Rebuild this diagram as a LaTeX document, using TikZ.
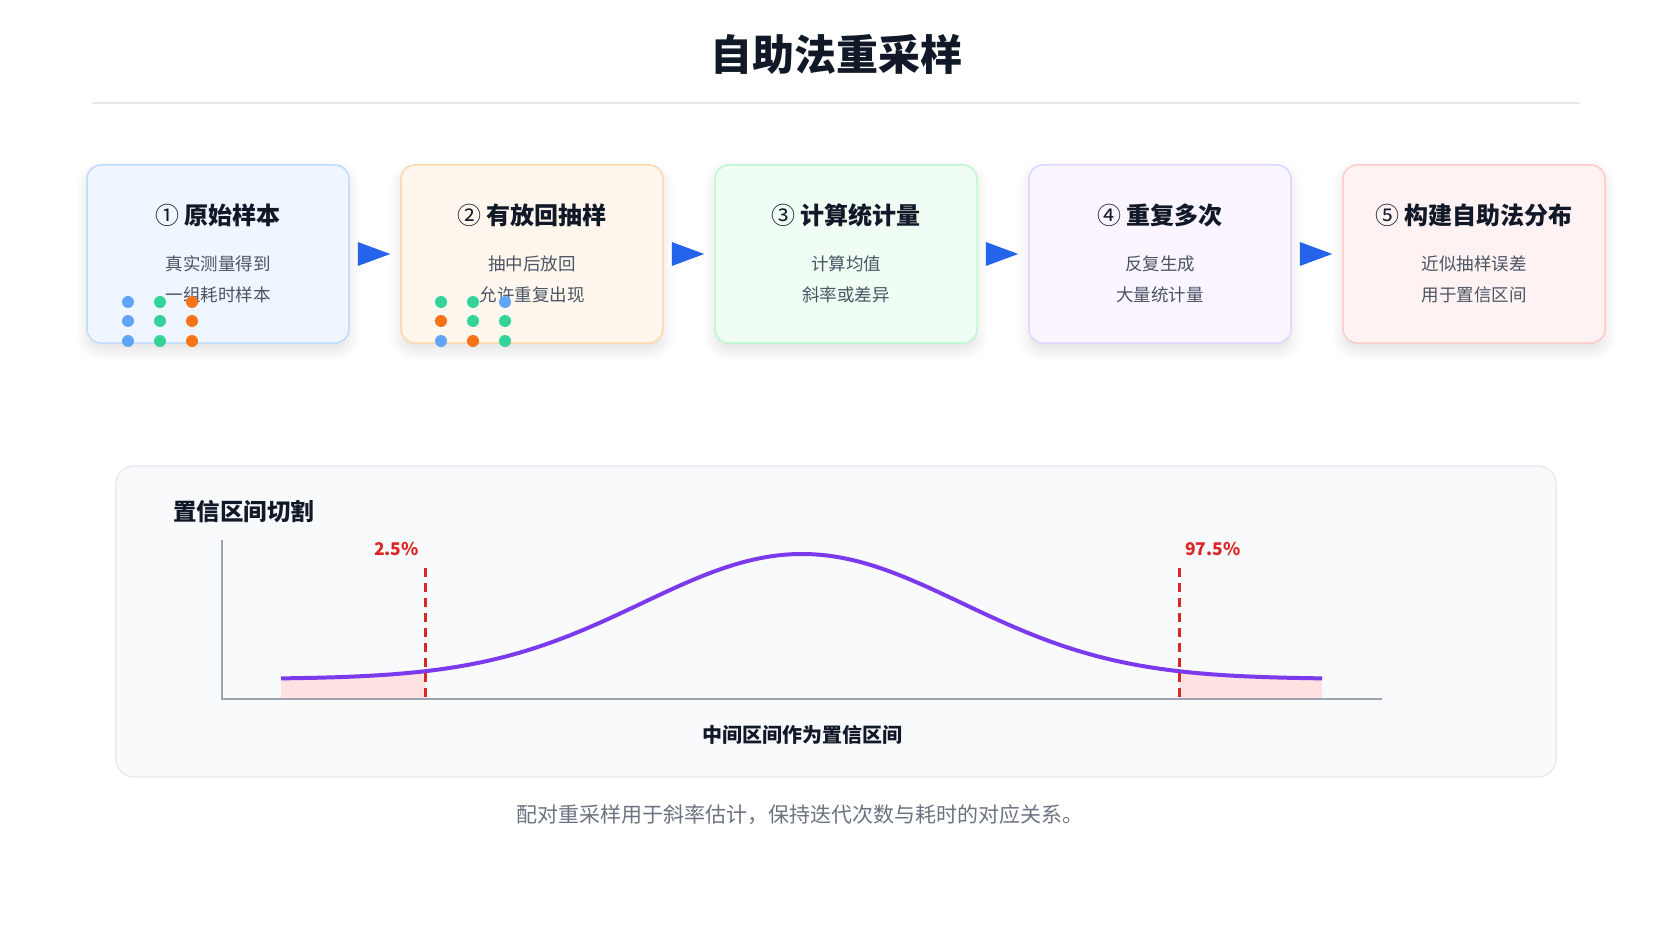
\documentclass[tikz,border=0pt]{standalone}
\usepackage{fontspec}
\setmainfont{Noto Sans CJK SC}
\usetikzlibrary{calc,shadows.blur}

\definecolor{titlecol}{HTML}{111827}
\definecolor{notecol}{HTML}{4B5563}
\definecolor{capcol}{HTML}{6B7280}
\definecolor{rulecol}{HTML}{E5E7EB}
\definecolor{arrowblue}{HTML}{2563EB}
\definecolor{dblue}{HTML}{60A5FA}
\definecolor{dgreen}{HTML}{34D399}
\definecolor{dorange}{HTML}{F97316}
\definecolor{curvecol}{HTML}{7C3AED}
\definecolor{cutred}{HTML}{DC2626}
\definecolor{tailpink}{HTML}{FEE2E2}
\definecolor{axiscol}{HTML}{9CA3AF}
\definecolor{panelfill}{HTML}{F8FAFC}
\definecolor{fillA}{HTML}{EFF6FF}
\definecolor{lineA}{HTML}{BFDBFE}
\definecolor{fillB}{HTML}{FFF7ED}
\definecolor{lineB}{HTML}{FED7AA}
\definecolor{fillC}{HTML}{F0FDF4}
\definecolor{lineC}{HTML}{BBF7D0}
\definecolor{fillD}{HTML}{FAF5FF}
\definecolor{lineD}{HTML}{DDD6FE}
\definecolor{fillE}{HTML}{FEF2F2}
\definecolor{lineE}{HTML}{FECACA}

\tikzset{
  stepbox/.style={rounded corners=14pt, minimum width=262pt, minimum height=178pt,
    line width=1.5pt, blur shadow={shadow xshift=0pt, shadow yshift=-7pt,
    shadow blur radius=12pt, shadow opacity=12}},
  steptitle/.style={font=\fontsize{24}{24}\selectfont\bfseries, text=titlecol, inner sep=0pt},
  stepnote/.style={font=\fontsize{17.5}{17.5}\selectfont, text=notecol, inner sep=0pt},
  sampledot/.style={circle, inner sep=0pt, minimum size=12pt},
  pctlabel/.style={font=\fontsize{17.5}{17.5}\selectfont\bfseries, text=cutred, inner sep=0pt},
  cutline/.style={cutred, line width=3pt, dash pattern=on 9pt off 6pt},
}

\begin{document}
\begin{tikzpicture}[x=1pt, y=-1pt]
  \useasboundingbox (0,0) rectangle (1672,941);

  % Title and rule
  \node[font=\fontsize{42}{42}\selectfont\bfseries, text=titlecol] (title) at (836,54) {自助法重采样};
  \coordinate (ruleL) at (92,103);
  \coordinate (ruleR) at (1580,103);
  \draw[rulecol, line width=1.5pt] (ruleL) -- (ruleR);

  % The steps
  \node[stepbox, fill=fillA, draw=lineA] (b1) at (218,254) {};
  \node[stepbox, fill=fillB, draw=lineB] (b2) at (532,254) {};
  \node[stepbox, fill=fillC, draw=lineC] (b3) at (846,254) {};
  \node[stepbox, fill=fillD, draw=lineD] (b4) at (1160,254) {};
  \node[stepbox, fill=fillE, draw=lineE] (b5) at (1474,254) {};

  \node[steptitle] (t1) at ($(b1.north)+(0,51)$) {{\mdseries ①} 原始样本};
  \node[steptitle] (t2) at ($(b2.north)+(0,51)$) {{\mdseries ②} 有放回抽样};
  \node[steptitle] (t3) at ($(b3.north)+(0,51)$) {{\mdseries ③} 计算统计量};
  \node[steptitle] (t4) at ($(b4.north)+(0,51)$) {{\mdseries ④} 重复多次};
  \node[steptitle] (t5) at ($(b5.north)+(0,51)$) {{\mdseries ⑤} 构建自助法分布};

  \node[stepnote] (n1a) at ($(b1.north)+(0,100)$) {真实测量得到};
  \node[stepnote] (n1b) at ($(b1.north)+(0,131)$) {一组耗时样本};
  \node[stepnote] (n2a) at ($(b2.north)+(0,100)$) {抽中后放回};
  \node[stepnote] (n2b) at ($(b2.north)+(0,131)$) {允许重复出现};
  \node[stepnote] (n3a) at ($(b3.north)+(0,100)$) {计算均值};
  \node[stepnote] (n3b) at ($(b3.north)+(0,131)$) {斜率或差异};
  \node[stepnote] (n4a) at ($(b4.north)+(0,100)$) {反复生成};
  \node[stepnote] (n4b) at ($(b4.north)+(0,131)$) {大量统计量};
  \node[stepnote] (n5a) at ($(b5.north)+(0,100)$) {近似抽样误差};
  \node[stepnote] (n5b) at ($(b5.north)+(0,131)$) {用于置信区间};

  % Sample dots
  \foreach \cx/\cy/\col [count=\i] in {
      128/302/dblue, 128/321/dblue, 128/341/dblue,
      160/302/dgreen, 160/321/dgreen, 160/341/dgreen,
      192/302/dorange, 192/321/dorange, 192/341/dorange}
    \node[sampledot, fill=\col] (sa\i) at (\cx,\cy) {};
  \foreach \cx/\cy/\col [count=\i] in {
      441/302/dgreen, 441/321/dorange, 441/341/dblue,
      473/302/dgreen, 473/321/dgreen, 473/341/dorange,
      505/302/dblue, 505/321/dgreen, 505/341/dgreen}
    \node[sampledot, fill=\col] (sb\i) at (\cx,\cy) {};

  % Arrows between steps
  \fill[arrowblue] ($(b1.east)+(8,-12)$) -- ($(b2.west)+(-10,0)$) -- ($(b1.east)+(8,12)$) -- cycle;
  \fill[arrowblue] ($(b2.east)+(8,-12)$) -- ($(b3.west)+(-10,0)$) -- ($(b2.east)+(8,12)$) -- cycle;
  \fill[arrowblue] ($(b3.east)+(8,-12)$) -- ($(b4.west)+(-10,0)$) -- ($(b3.east)+(8,12)$) -- cycle;
  \fill[arrowblue] ($(b4.east)+(8,-12)$) -- ($(b5.west)+(-10,0)$) -- ($(b4.east)+(8,12)$) -- cycle;

  % The panel
  \node[rounded corners=18pt, minimum width=1440pt, minimum height=311pt, line width=1.2pt,
        fill=panelfill, draw=rulecol] (panel) at (836,621.5) {};
  \node[font=\fontsize{23.5}{23.5}\selectfont\bfseries, text=titlecol, anchor=west, inner sep=0pt]
        (ptitle) at (173,512) {置信区间切割};

  % Tails
  \fill[tailpink] (281,699) -- plot[domain=281:425, samples=40]
        (\x, {679-125*exp(-0.5*((\x-802)/160)^2)}) -- (425,699) -- cycle;
  \fill[tailpink] (1179,699) -- plot[domain=1179:1322, samples=40]
        (\x, {679-125*exp(-0.5*((\x-802)/160)^2)}) -- (1322,699) -- cycle;

  % Axes
  \coordinate (ytop) at (222,540);
  \coordinate (orig) at (222,699);
  \coordinate (xend) at (1382,699);
  \draw[axiscol, line width=1.5pt] (ytop) -- (orig) -- (xend);

  % The curve
  \draw[curvecol, line width=4pt] plot[domain=281:1322, samples=150]
        (\x, {679-125*exp(-0.5*((\x-802)/160)^2)});

  % Cut lines
  \coordinate (lotop) at (425,568);
  \coordinate (lobot) at (425,699);
  \coordinate (hitop) at (1179,568);
  \coordinate (hibot) at (1179,699);
  \draw[cutline] (lotop) -- (lobot);
  \draw[cutline] (hitop) -- (hibot);
  \node[pctlabel, anchor=east] (lolab) at ($(lotop)+(-6,-19)$) {2.5\%};
  \node[pctlabel, anchor=west] (hilab) at ($(hitop)+(6,-19)$) {97.5\%};

  \node[font=\fontsize{20}{20}\selectfont\bfseries, text=titlecol] (mid) at (802,735) {中间区间作为置信区间};

  % Caption
  \node[font=\fontsize{21}{21}\selectfont, text=capcol] (cap) at (800,815)
        {配对重采样用于斜率估计，保持迭代次数与耗时的对应关系。};
\end{tikzpicture}
\end{document}
